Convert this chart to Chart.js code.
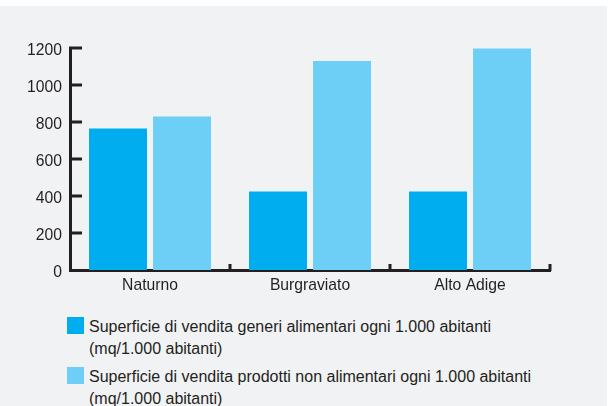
<!DOCTYPE html>
<html>
<head>
<meta charset="utf-8">
<script src="https://cdn.jsdelivr.net/npm/chart.js@4.4.0/dist/chart.umd.min.js"></script>
<style>
  body { margin: 0; background: #fff; width: 614px; height: 406px; overflow: hidden; position: relative; }
  #panel { position: absolute; left: 0; top: 6px; width: 607px; height: 400px; background: #f1f2f4; }
  #wrap { position: absolute; left: 0; top: 0; width: 614px; height: 300px; }
  #legend { position: absolute; left: 67px; top: 316px; font-family: "Liberation Sans", Arial, sans-serif; font-size: 16px; line-height: 22px; color: #231f20; }
  .item { position: relative; padding-left: 22px; margin-bottom: 6px; white-space: nowrap; }
  .box { position: absolute; left: 0; top: 1px; width: 17px; height: 17px; }
</style>
</head>
<body>
<div id="panel"></div>
<div id="wrap"><canvas id="grafico"></canvas></div>
<div id="legend"></div>
<script>
// Dati
const categorie = ["Naturno", "Burgraviato", "Alto Adige"];
const alimentari = [765, 425, 425];
const nonAlimentari = [830, 1130, 1197];
const etichetteSerie = [
    ["Superficie di vendita generi alimentari ogni 1.000 abitanti", "(mq/1.000 abitanti)"],
    ["Superficie di vendita prodotti non alimentari ogni 1.000 abitanti", "(mq/1.000 abitanti)"]
];
const coloriSerie = ["#00aeef", "#6dcff6"];
const yMax = 1200;
const yStep = 200;

const inchiostro = "#231f20";

Chart.defaults.font.family = "'Liberation Sans', Arial, sans-serif";
Chart.defaults.font.size = 15.7;
Chart.defaults.color = inchiostro;

// Tacche interne sugli assi (come nell'originale)
const tacche = {
    id: "tacche",
    afterDraw(chart) {
        const ctx = chart.ctx;
        const x = chart.scales.x;
        const y = chart.scales.y;
        ctx.save();
        ctx.strokeStyle = inchiostro;
        ctx.lineWidth = 3;
        y.ticks.forEach((t, i) => {
            if (t.value === 0) return;
            const py = Math.round(y.getPixelForTick(i));
            ctx.beginPath();
            ctx.moveTo(y.right - 1, py);
            ctx.lineTo(y.right + 12, py);
            ctx.stroke();
        });
        categorie.forEach((c, i) => {
            const px = Math.round(x.getPixelForValue(i + 0.5));
            ctx.beginPath();
            ctx.moveTo(px, x.top + 1);
            ctx.lineTo(px, x.top - 6);
            ctx.stroke();
        });
        ctx.restore();
    }
};

const ctx = document.getElementById("grafico").getContext("2d");
new Chart(ctx, {
    type: "bar",
    data: {
        labels: categorie,
        datasets: [
            { label: etichetteSerie[0].join(" "), data: alimentari, backgroundColor: coloriSerie[0] },
            { label: etichetteSerie[1].join(" "), data: nonAlimentari, backgroundColor: coloriSerie[1] }
        ]
    },
    options: {
        responsive: true,
        maintainAspectRatio: false,
        animation: false,
        layout: { padding: { top: 48, right: 64, bottom: 0, left: 0 } },
        plugins: {
            legend: { display: false },
            tooltip: { enabled: false }
        },
        datasets: { bar: { categoryPercentage: 0.8, barPercentage: 0.906 } },
        scales: {
            x: {
                grid: { display: false, drawTicks: false },
                border: { display: true, color: inchiostro, width: 3 },
                ticks: { padding: 6, color: inchiostro },
                afterFit: (scale) => { scale.height = 30; }
            },
            y: {
                min: 0,
                max: yMax,
                grid: { display: false, drawTicks: false },
                border: { display: true, color: inchiostro, width: 3 },
                ticks: {
                    stepSize: yStep,
                    padding: 8,
                    labelOffset: 2.5,
                    color: inchiostro,
                    callback: (v) => String(v) // niente separatore delle migliaia
                },
                afterFit: (scale) => { scale.width = 70; }
            }
        }
    },
    plugins: [tacche]
});

// Legenda in HTML con testo su due righe
const legenda = document.getElementById("legend");
etichetteSerie.forEach((righe, i) => {
    const item = document.createElement("div");
    item.className = "item";
    const box = document.createElement("span");
    box.className = "box";
    box.style.background = coloriSerie[i];
    item.appendChild(box);
    righe.forEach((r, j) => {
        if (j > 0) item.appendChild(document.createElement("br"));
        item.appendChild(document.createTextNode(r));
    });
    legenda.appendChild(item);
});
</script>
</body>
</html>
